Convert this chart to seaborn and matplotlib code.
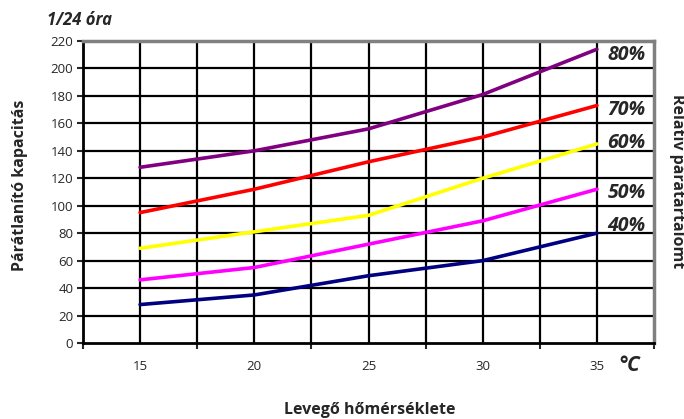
import pandas as pd
import matplotlib.pyplot as plt
import seaborn as sns

# temperatures (°C) and dehumidifying capacity per relative humidity
temps = [15, 20, 25, 30, 35]
rh_80 = [128, 140, 156, 181, 214]
rh_70 = [95, 112, 132, 150, 173]
rh_60 = [69, 81, 93, 120, 145]
rh_50 = [46, 55, 72, 89, 112]
rh_40 = [28, 35, 49, 60, 80]
series_names = ['80%', '70%', '60%', '50%', '40%']
series_colors = ['#800080', '#FF0000', '#FFFF00', '#FF00FF', '#000080']
y_ticks = list(range(0, 221, 20))

data = pd.DataFrame({
    'temp': temps * 5,
    'value': rh_80 + rh_70 + rh_60 + rh_50 + rh_40,
    'rh': [n for n in series_names for _ in temps],
})

sns.set_style('white')
plt.rcParams['font.family'] = ['Open Sans', 'DejaVu Sans']

fig = plt.figure(figsize=(6.84, 4.19), dpi=100)
ax = fig.add_axes([83 / 684, 1 - 343 / 419, (654 - 83) / 684, (343 - 41) / 419])

sns.lineplot(data=data, x='temp', y='value', hue='rh', palette=series_colors,
             hue_order=series_names, linewidth=2.6, legend=False, ax=ax, zorder=3)

ax.set_xlim(12.5, 37.5)
ax.set_ylim(0, 220)
ax.set_yticks(y_ticks)
ax.set_xticks(temps)
ax.set_xticks([12.5 + 5 * i for i in range(6)], minor=True)
ax.tick_params(axis='x', which='major', length=0, pad=12, labelsize=9.5)
ax.tick_params(axis='x', which='minor', length=4, width=1.5, direction='out')
ax.tick_params(axis='y', length=4, width=1.5, direction='out', labelsize=9.5, pad=3)
ax.tick_params(axis='y', left=True)
ax.tick_params(axis='x', which='minor', bottom=True)

# grid every 2.5 °C and every 20 units
for gx in [15 + 2.5 * i for i in range(9)]:
    ax.axvline(gx, color='black', lw=1.6, zorder=1)
for gy in y_ticks[1:]:
    ax.axhline(gy, color='black', lw=1.6, zorder=1)

for side in ['left', 'bottom']:
    ax.spines[side].set_color('black')
    ax.spines[side].set_linewidth(2)
for side in ['top', 'right']:
    ax.spines[side].set_color('#808080')
    ax.spines[side].set_linewidth(2.5)

ax.set_xlabel('')
ax.set_ylabel('')

# series labels on the right
label_y = [210, 170, 146, 109, 85]
for name, ly in zip(series_names, label_y):
    ax.text(36.3, ly, name, ha='center', va='center', fontsize=14,
            fontweight='bold', style='italic', zorder=4)

fig.text(47 / 684, 1 - 20 / 419, '1/24 óra', fontsize=12, fontweight='bold',
         style='italic', va='center', ha='left')
fig.text(20 / 684, 1 - 185 / 419, 'Párátlanító kapacitás', rotation=90,
         fontsize=11.5, fontweight='bold', ha='center', va='center')
fig.text(677 / 684, 1 - 181 / 419, 'Relatív páratartalomt', rotation=-90,
         fontsize=11.5, fontweight='bold', ha='center', va='center')
fig.text(370 / 684, 1 - 410 / 419, 'Levegő hőmérséklete', fontsize=11.5,
         fontweight='bold', ha='center', va='center')
fig.text(629 / 684, 1 - 365 / 419, '°C', fontsize=15, fontweight='bold',
         style='italic', ha='center', va='center')

fig.savefig('out.png', dpi=100)
